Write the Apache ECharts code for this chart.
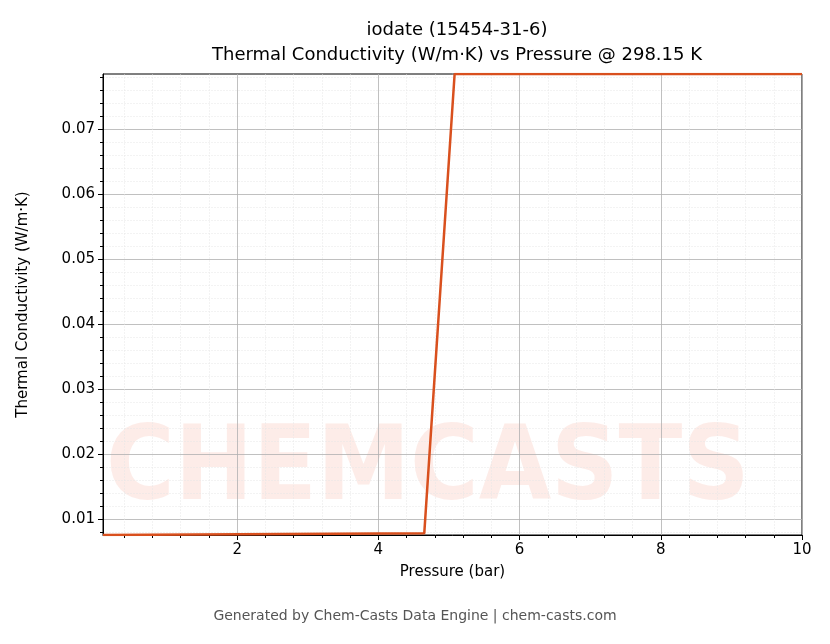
<!DOCTYPE html>
<html>
<head>
<meta charset="utf-8">
<script src="https://cdn.jsdelivr.net/npm/echarts@6/dist/echarts.min.js"></script>
<style>html,body{margin:0;padding:0;background:#fff}#chart{width:830px;height:644px}</style>
</head>
<body>
<div id="chart"></div>
<script>
// pressure (bar) vs thermal conductivity (W/m·K)
var pressure = [0.1, 4.65, 5.08, 10];
var conductivity = [0.00754, 0.0078, 0.0785, 0.0785];
var xTicks = [2, 4, 6, 8, 10];
var yTicks = [0.01, 0.02, 0.03, 0.04, 0.05, 0.06, 0.07];

var points = pressure.map(function (p, i) { return [p, conductivity[i]]; });
var font = '"DejaVu Sans", sans-serif';

var chart = echarts.init(document.getElementById('chart'));
chart.setOption({
    backgroundColor: '#fff',
    animation: false,
    title: {
        text: 'iodate (15454-31-6)\nThermal Conductivity (W/m·K) vs Pressure @ 298.15 K',
        left: 452, top: 13, textAlign: 'center',
        textStyle: {fontFamily: font, fontSize: 18, fontWeight: 'normal', color: '#000', lineHeight: 25}
    },
    graphic: [
        {type: 'text', left: 106, top: 420, z: 0, silent: true,
         style: {text: 'CHEMCASTS', font: 'bold 104px "DejaVu Sans Condensed"', fill: 'rgba(250,200,190,0.35)'}},
        {type: 'text', left: 'center', top: 609, style: {text: 'Generated by Chem-Casts Data Engine | chem-casts.com',
         font: '14px "DejaVu Sans"', fill: '#555'}}
    ],
    grid: {left: 103, right: 28, top: 74, bottom: 109, show: true, borderColor: '#000', borderWidth: 1},
    xAxis: {
        type: 'value', min: 0.1, max: 10,
        name: 'Pressure (bar)', nameLocation: 'middle', nameGap: 30,
        nameTextStyle: {fontFamily: font, fontSize: 15, color: '#000'},
        axisLine: {lineStyle: {color: '#000'}},
        axisTick: {customValues: xTicks, length: 5, lineStyle: {color: '#000'}},
        axisLabel: {customValues: xTicks, fontFamily: font, fontSize: 15, color: '#000'},
        splitLine: {show: true, lineStyle: {color: '#b0b0b0', width: 0.8}},
        minorTick: {show: true, splitNumber: 5, length: 3, lineStyle: {color: '#000'}},
        minorSplitLine: {show: true, lineStyle: {color: '#e6e6e6', width: 0.5, type: 'dashed'}}
    },
    yAxis: {
        type: 'value', min: 0.00754, max: 0.0785,
        name: 'Thermal Conductivity (W/m·K)', nameLocation: 'middle', nameGap: 72,
        nameTextStyle: {fontFamily: font, fontSize: 15, color: '#000'},
        axisLine: {show: true, lineStyle: {color: '#000'}},
        axisTick: {show: true, customValues: yTicks, length: 5, lineStyle: {color: '#000'}},
        axisLabel: {customValues: yTicks, fontFamily: font, fontSize: 15, color: '#000',
                    formatter: function (v) { return v.toFixed(2); }},
        splitLine: {show: true, lineStyle: {color: '#b0b0b0', width: 0.8}},
        minorTick: {show: true, splitNumber: 5, length: 3, lineStyle: {color: '#000'}},
        minorSplitLine: {show: true, lineStyle: {color: '#e6e6e6', width: 0.5, type: 'dashed'}}
    },
    series: [{
        type: 'line', data: points, showSymbol: false, z: 5,
        lineStyle: {color: '#d9501e', width: 2.5}
    }]
});
</script>
</body>
</html>
